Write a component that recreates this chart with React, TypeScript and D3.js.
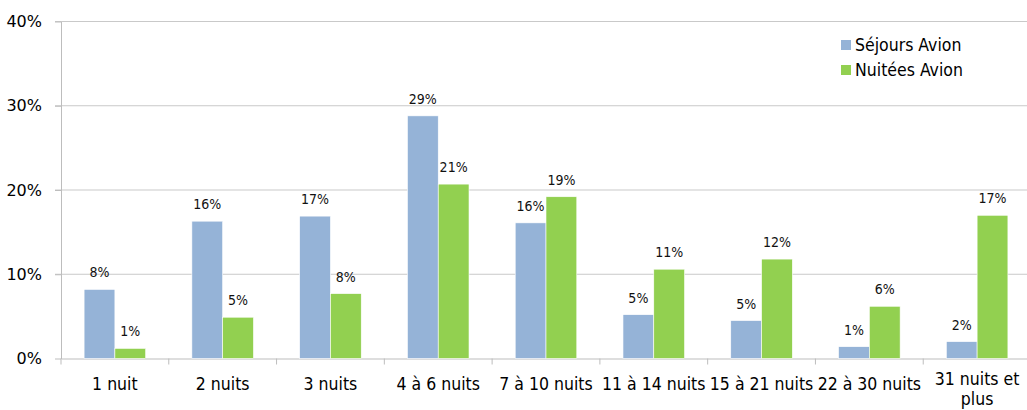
import React, { useEffect, useRef } from 'react';
import * as d3 from 'd3';

const categories = [
  '1 nuit',
  '2 nuits',
  '3 nuits',
  '4 à 6 nuits',
  '7 à 10 nuits',
  '11 à 14 nuits',
  '15 à 21 nuits',
  '22 à 30 nuits',
  '31 nuits et plus',
];
const seriesNames = ['Séjours Avion', 'Nuitées Avion'];
const sejoursAvion = [8.2, 16.3, 16.9, 28.8, 16.1, 5.2, 4.5, 1.4, 2.0];
const nuiteesAvion = [1.2, 4.9, 7.7, 20.7, 19.2, 10.6, 11.8, 6.2, 17.0];
const yTicks = [0, 10, 20, 30, 40];

const colors = ['#95B3D7', '#92D050'];

export default function App() {
  const ref = useRef<SVGSVGElement | null>(null);

  useEffect(() => {
    if (!ref.current) return;
    const width = 1027;
    const height = 410;
    const margin = { top: 21.5, left: 61, bottom: 51.5 };
    const plotRight = 1031;

    const svg = d3.select(ref.current);
    svg.selectAll('*').remove();

    const x = d3.scaleBand().domain(categories).range([margin.left, plotRight]).paddingInner(0).paddingOuter(0);
    const xs = d3.scaleBand().domain(seriesNames).range([0, x.bandwidth()]).paddingInner(0).paddingOuter(0.75);
    const y = d3.scaleLinear().domain([0, 40]).range([height - margin.bottom, margin.top]);

    // grid lines
    svg.append('g')
      .selectAll('line')
      .data(yTicks.slice(1))
      .join('line')
      .attr('x1', margin.left - 6)
      .attr('x2', width)
      .attr('y1', d => y(d))
      .attr('y2', d => y(d))
      .attr('stroke', '#c9c9c9')
      .attr('stroke-width', 1);

    // y axis
    const yAxis = svg.append('g').attr('transform', `translate(${margin.left},0)`)
      .call(d3.axisLeft(y).tickValues(yTicks).tickSize(6).tickSizeOuter(0).tickFormat(d => `${d}%`));
    yAxis.select('.domain').attr('stroke', '#bdbdbd');
    yAxis.selectAll('.tick line').attr('stroke', '#bdbdbd');
    yAxis.selectAll('.tick text')
      .attr('x', -19)
      .attr('fill', '#000')
      .style('font-family', '"DejaVu Sans", sans-serif')
      .style('font-size', '16px');

    // x axis
    const xAxis = svg.append('g').attr('transform', `translate(0,${y(0)})`)
      .call(d3.axisBottom(x).tickSize(0).tickSizeOuter(0));
    xAxis.select('.domain').attr('stroke', '#bdbdbd');
    xAxis.selectAll('.tick text')
      .attr('y', 31)
      .attr('dy', 0)
      .attr('fill', '#000')
      .style('font-family', '"DejaVu Sans Condensed", "DejaVu Sans", sans-serif')
      .style('font-stretch', 'condensed')
      .style('font-size', '17.5px');

    // wrap long category labels onto a second line (nudged up so it stays on the page)
    xAxis.selectAll<SVGTextElement, string>('.tick text').each(function (d) {
      const text = d3.select(this);
      const words = d.split(' ');
      text.text(null);
      let line: string[] = [];
      let tspan = text.append('tspan').attr('x', 0).attr('dy', 0);
      for (const w of words) {
        line.push(w);
        tspan.text(line.join(' '));
        if ((tspan.node() as SVGTSpanElement).getComputedTextLength() > x.bandwidth() + 2 && line.length > 1) {
          line.pop();
          tspan.text(line.join(' '));
          line = [w];
          text.attr('y', 26);
          tspan = text.append('tspan').attr('x', 0).attr('dy', '1.17em').text(w);
        }
      }
    });

    // category separator ticks
    svg.append('g')
      .selectAll('line')
      .data(categories)
      .join('line')
      .attr('x1', d => x(d)!)
      .attr('x2', d => x(d)!)
      .attr('y1', y(0))
      .attr('y2', y(0) + 6)
      .attr('stroke', '#bdbdbd');

    const rows = categories.map((c, i) => ({ c, values: [sejoursAvion[i], nuiteesAvion[i]] }));

    const groups = svg.append('g')
      .selectAll('g')
      .data(rows)
      .join('g')
      .attr('transform', d => `translate(${x(d.c)},0)`);

    groups.selectAll('rect')
      .data(d => d.values.map((v, k) => ({ v, s: seriesNames[k], k })))
      .join('rect')
      .attr('x', d => xs(d.s)!)
      .attr('y', d => y(d.v))
      .attr('width', xs.bandwidth())
      .attr('height', d => y(0) - y(d.v))
      .attr('fill', d => colors[d.k])
      .attr('stroke', '#ffffff')
      .attr('stroke-width', 0.6);

    groups.selectAll('text')
      .data(d => d.values.map((v, k) => ({ v, s: seriesNames[k] })))
      .join('text')
      .attr('x', d => xs(d.s)! + xs.bandwidth() / 2)
      .attr('y', d => y(d.v) - 12)
      .attr('text-anchor', 'middle')
      .attr('fill', '#111')
      .style('font-family', '"DejaVu Sans Condensed", "DejaVu Sans", sans-serif')
      .style('font-stretch', 'condensed')
      .style('font-size', '14px')
      .text(d => `${Math.round(d.v)}%`);

    // legend
    const legend = svg.append('g').attr('transform', 'translate(841,40)');
    const item = legend.selectAll('g')
      .data(seriesNames)
      .join('g')
      .attr('transform', (_, i) => `translate(0,${i * 25})`);
    item.append('rect')
      .attr('width', 10)
      .attr('height', 10)
      .attr('fill', (_, i) => colors[i]);
    item.append('text')
      .attr('x', 14)
      .attr('y', 11)
      .attr('fill', '#000')
      .style('font-family', '"DejaVu Sans Condensed", "DejaVu Sans", sans-serif')
      .style('font-stretch', 'condensed')
      .style('font-size', '17.5px')
      .text(d => d);
  }, []);

  return (
    <svg
      ref={ref}
      width={1027}
      height={410}
      style={{ position: 'absolute', left: 0, top: 0, background: '#fff' }}
    />
  );
}
